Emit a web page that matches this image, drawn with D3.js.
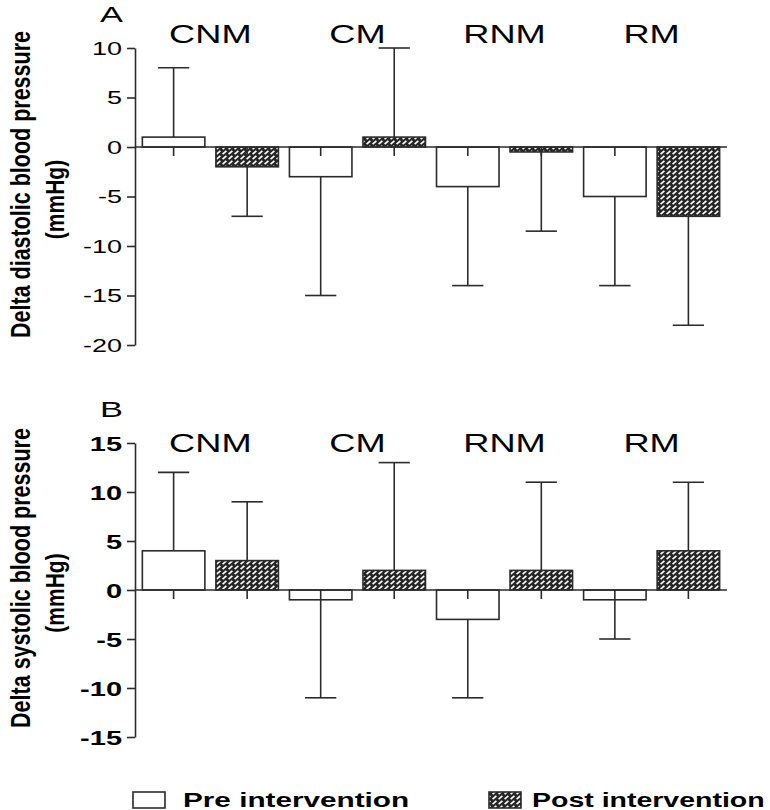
<!DOCTYPE html>
<html>
<head>
<meta charset="utf-8">
<script src="https://cdn.jsdelivr.net/npm/d3@7"></script>
<style>
  html, body { margin: 0; padding: 0; background: #fff; }
  svg { display: block; }
</style>
</head>
<body>
<div id="chart"></div>
<script>
// ---- data ----
const categories = ["CNM", "CM", "RNM", "RM"];
const seriesNames = ["Pre intervention", "Post intervention"];

const diaPre = [1, -3, -4, -5];
const diaPost = [-2, 1, -0.5, -7];
const diaPreSD = [7, 12, 10, 9];
const diaPostSD = [5, 9, 8, 11];

const sysPre = [4, -1, -3, -1];
const sysPost = [3, 2, 2, 4];
const sysPreSD = [8, 10, 8, 4];
const sysPostSD = [6, 11, 9, 7];

const diaTicks = [10, 5, 0, -5, -10, -15, -20];
const sysTicks = [15, 10, 5, 0, -5, -10, -15];

// ---- setup ----
const W = 770, H = 810;
const FONT = "'Liberation Sans', Arial, Helvetica, sans-serif";
const INK = "#2b2b2b";
const SW = 1.6;
const STRETCH = 1.45;

const svg = d3.select("#chart").append("svg")
  .attr("width", W).attr("height", H)
  .attr("viewBox", `0 0 ${W} ${H}`);

const defs = svg.append("defs");
const pat = defs.append("pattern")
  .attr("id", "hatch")
  .attr("patternUnits", "userSpaceOnUse")
  .attr("width", 6).attr("height", 5);
pat.append("rect").attr("width", 6).attr("height", 5).attr("fill", "#262626");
pat.append("line")
  .attr("x1", 0.6).attr("y1", 4.2).attr("x2", 4.4).attr("y2", 0.9)
  .attr("stroke", "#fff").attr("stroke-width", 1.7);

const keys = [];
categories.forEach(c => { keys.push(c + "|pre"); keys.push(c + "|post"); });

const x = d3.scaleBand()
  .domain(keys)
  .range([135, 727])
  .paddingInner(0.15)
  .paddingOuter(0.1);

function stretchedText(g, px, py, str, opts) {
  return g.append("text")
    .attr("transform", `translate(${px},${py}) scale(${opts.sx || STRETCH},1)`)
    .attr("text-anchor", opts.anchor || "start")
    .attr("font-family", FONT)
    .attr("font-size", opts.size)
    .attr("font-weight", opts.weight || "normal")
    .attr("fill", "#000")
    .text(str);
}

function panel(cfg) {
  const g = svg.append("g");
  const y = d3.scaleLinear().domain(cfg.domain).range(cfg.range);

  // y axis
  const ax = g.append("g")
    .attr("transform", "translate(135,0)")
    .call(d3.axisLeft(y).tickValues(cfg.ticks).tickSize(8).tickSizeOuter(0)
      .tickFormat(d3.format("d")));
  ax.select(".domain").attr("stroke", INK).attr("stroke-width", SW);
  ax.selectAll(".tick line").attr("stroke", INK).attr("stroke-width", SW);
  ax.attr("font-family", FONT).attr("font-size", cfg.tickSize);
  ax.selectAll(".tick text")
    .attr("x", -13 / cfg.tickStretch)
    .attr("dy", "0.36em")
    .attr("fill", "#000")
    .attr("font-weight", cfg.tickWeight)
    .attr("transform", `scale(${cfg.tickStretch},1)`)
    .text(d => String(d));

  // y axis title (rotated)
  const cy = (y.range()[0] + y.range()[1]) / 2;
  g.append("text")
    .attr("transform", `translate(30,${cy - 12}) rotate(-90) scale(1,1.25)`)
    .attr("text-anchor", "middle")
    .attr("font-family", FONT).attr("font-size", 21.5).attr("font-weight", "bold")
    .attr("fill", "#000")
    .text(cfg.title);
  g.append("text")
    .attr("transform", `translate(64,${cy + 3}) rotate(-90) scale(1,1.2)`)
    .attr("text-anchor", "middle")
    .attr("font-family", FONT).attr("font-size", 21).attr("font-weight", "bold")
    .attr("fill", "#000")
    .text("(mmHg)");

  // panel letter
  stretchedText(g, 100, cfg.letterY, cfg.letter, { size: 23, sx: 1.5 });

  // category labels
  categories.forEach(c => {
    const cx = (x(c + "|pre") + x(c + "|post") + x.bandwidth()) / 2;
    stretchedText(g, cx, cfg.catY, c, { size: 25, anchor: "middle" });
  });

  // data rows
  const rows = [];
  categories.forEach((c, i) => {
    rows.push({ key: c + "|pre", v: cfg.pre[i], sd: cfg.preSD[i], s: "pre" });
    rows.push({ key: c + "|post", v: cfg.post[i], sd: cfg.postSD[i], s: "post" });
  });

  const bw = x.bandwidth();
  const capHalf = bw * 0.25;

  // error bars (one-sided, away from zero)
  const eb = g.append("g").attr("stroke", INK).attr("stroke-width", SW);
  rows.forEach(r => {
    const cx = x(r.key) + bw / 2;
    const end = r.v >= 0 ? r.v + r.sd : r.v - r.sd;
    eb.append("line").attr("x1", cx).attr("x2", cx).attr("y1", y(r.v)).attr("y2", y(end));
    eb.append("line").attr("x1", cx - capHalf).attr("x2", cx + capHalf).attr("y1", y(end)).attr("y2", y(end));
  });

  // bars
  g.append("g").selectAll("rect").data(rows).join("rect")
    .attr("x", d => x(d.key))
    .attr("width", bw)
    .attr("y", d => y(Math.max(0, d.v)))
    .attr("height", d => Math.abs(y(d.v) - y(0)))
    .attr("fill", d => d.s === "pre" ? "#fff" : "url(#hatch)")
    .attr("stroke", INK).attr("stroke-width", SW);

  // zero baseline
  g.append("line")
    .attr("x1", 135).attr("x2", x.range()[1])
    .attr("y1", y(0)).attr("y2", y(0))
    .attr("stroke", INK).attr("stroke-width", SW);

  // x ticks at bar centres
  g.append("g").selectAll("line").data(rows).join("line")
    .attr("x1", d => x(d.key) + bw / 2).attr("x2", d => x(d.key) + bw / 2)
    .attr("y1", y(0)).attr("y2", y(0) + 9)
    .attr("stroke", INK).attr("stroke-width", SW);
}

panel({
  domain: [-20, 10], range: [345, 48], ticks: diaTicks,
  tickSize: 18, tickWeight: "normal", tickStretch: 1.5,
  title: "Delta diastolic blood pressure",
  letter: "A", letterY: 22, catY: 43,
  pre: diaPre, post: diaPost, preSD: diaPreSD, postSD: diaPostSD
});

panel({
  domain: [-15, 15], range: [737, 443], ticks: sysTicks,
  tickSize: 20, tickWeight: "bold", tickStretch: 1.45,
  title: "Delta systolic blood pressure",
  letter: "B", letterY: 417, catY: 452,
  pre: sysPre, post: sysPost, preSD: sysPreSD, postSD: sysPostSD
});

// legend
const lg = svg.append("g");
const legendItems = [
  { name: seriesNames[0], fill: "#fff", bx: 133, tx: 183, sx: 1.45 },
  { name: seriesNames[1], fill: "url(#hatch)", bx: 489, tx: 532, sx: 1.39 }
];
legendItems.forEach(it => {
  lg.append("rect").attr("x", it.bx).attr("y", 792).attr("width", 32).attr("height", 16)
    .attr("fill", it.fill).attr("stroke", INK).attr("stroke-width", SW);
  stretchedText(lg, it.tx, 807, it.name, { size: 20.5, weight: "bold", sx: it.sx });
});
</script>
</body>
</html>
